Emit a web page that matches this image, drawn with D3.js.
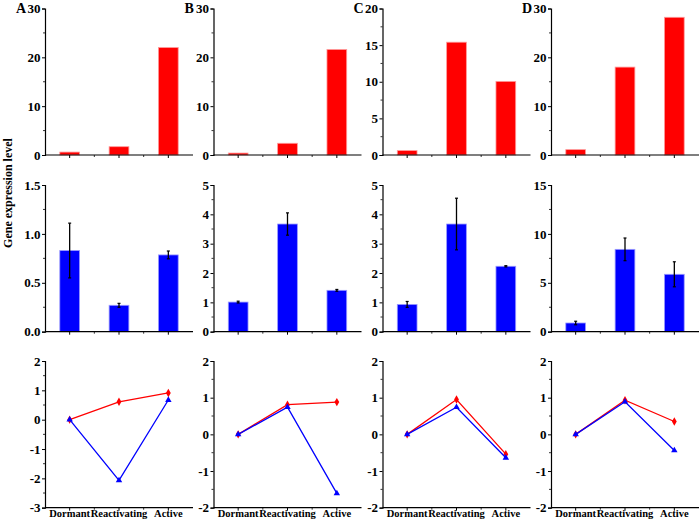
<!DOCTYPE html>
<html>
<head>
<meta charset="utf-8">
<script src="https://cdn.jsdelivr.net/npm/d3@7"></script>
<style>
  html, body { margin: 0; padding: 0; background: #fff; }
  svg text { font-family: "Liberation Serif", "Times New Roman", serif !important; font-weight: bold !important; }
</style>
</head>
<body>
<svg id="chart" width="700" height="521"></svg>
<script>
const categories = ["Dormant", "Reactivating", "Active"];
const panelLabels = ["A", "B", "C", "D"];

const topValues = [
  [0.6, 1.7, 22.0],
  [0.4, 2.4, 21.6],
  [0.6, 15.4, 10.05],
  [1.1, 18.0, 28.2]
];
const topMax = [30, 30, 20, 30];
const topTicks = [[0, 10, 20, 30], [0, 10, 20, 30], [0, 5, 10, 15, 20], [0, 10, 20, 30]];

const midValues = [
  [0.83, 0.27, 0.785],
  [1.01, 3.67, 1.41],
  [0.93, 3.67, 2.23],
  [0.89, 8.42, 5.87]
];
const midErrors = [
  [0.28, 0.02, 0.04],
  [0.03, 0.38, 0.03],
  [0.10, 0.88, 0.02],
  [0.18, 1.16, 1.28]
];
const midMax = [1.5, 5, 5, 15];
const midTicks = [[0, 0.5, 1.0, 1.5], [0, 1, 2, 3, 4, 5], [0, 1, 2, 3, 4, 5], [0, 5, 10, 15]];

const redLine = [
  [0, 0.61, 0.91],
  [0, 0.81, 0.88],
  [0, 0.95, -0.54],
  [0, 0.93, 0.35]
];
const blueLine = [
  [0, -2.07, 0.67],
  [0, 0.74, -1.61],
  [0, 0.74, -0.64],
  [0, 0.89, -0.44]
];
const bottomMin = [-3, -2, -2, -2];
const bottomMax = [2, 2, 2, 2];

const svg = d3.select("#chart");
const FONT = '"Liberation Serif", "Times New Roman", serif';

const panelX = [45, 213.5, 382.5, 551];
const plotW = 148;
const rows = [
  { top: 8.5, bottom: 155 },
  { top: 185, bottom: 331.7 },
  { top: 361, bottom: 507.7 }
];

const hyphen = f => d => f(d).replace("\u2212", "-");

function drawYAxis(g, y, ticks, fmt, x0) {
  const ax = d3.axisLeft(y).tickValues(ticks).tickSize(3).tickPadding(1.5).tickFormat(hyphen(fmt));
  const ga = g.append("g").attr("transform", `translate(${x0},0)`).call(ax)
    .attr("font-family", FONT).attr("font-weight", "bold").attr("font-size", 13);
  ga.select(".domain").attr("stroke", "#000").attr("stroke-width", 1.2);
  ga.selectAll(".tick line").attr("stroke", "#000").attr("stroke-width", 1);
  ga.selectAll(".tick text").attr("font-size", 13).attr("fill", "#000");
  const minor = [];
  for (let i = 0; i < ticks.length - 1; i++) minor.push((ticks[i] + ticks[i + 1]) / 2);
  g.selectAll(null).data(minor).enter().append("line")
    .attr("x1", x0 - 2).attr("x2", x0)
    .attr("y1", d => y(d)).attr("y2", d => y(d))
    .attr("stroke", "#000").attr("stroke-width", 0.8);
}

function drawXAxis(g, x, yPos, withLabels) {
  const ax = d3.axisBottom(x).tickSize(3).tickPadding(-1);
  if (!withLabels) ax.tickFormat("");
  const ga = g.append("g").attr("transform", `translate(0,${yPos})`).call(ax)
    .attr("font-family", FONT).attr("font-weight", "bold").attr("font-size", 10.5);
  ga.select(".domain").attr("stroke", "#000").attr("stroke-width", 1.2)
    .attr("d", `M${x.range()[0]},0H${x.range()[1]}`);
  ga.selectAll(".tick line").attr("stroke", "#000");
  ga.selectAll(".tick text").attr("font-size", 10.5).attr("fill", "#000");
  const bounds = [1, 2].map(k => x.range()[0] + k * x.step());
  g.selectAll(null).data(bounds).enter().append("line")
    .attr("x1", d => d).attr("x2", d => d)
    .attr("y1", yPos).attr("y2", yPos + 2)
    .attr("stroke", "#000").attr("stroke-width", 0.8);
}

panelLabels.forEach((lab, p) => {
  const x0 = panelX[p];
  const g = svg.append("g");
  const x = d3.scaleBand().domain(categories).range([x0, x0 + plotW])
    .paddingInner(0.6).paddingOuter(0.3);
  const ctr = d => x(d) + x.bandwidth() / 2;

  g.append("text").attr("x", x0 - 29).attr("y", 13).attr("font-size", 14)
    .attr("font-family", FONT).attr("font-weight", "bold")
    .attr("fill", "#000").text(lab);

  // top row: red bars
  const yT = d3.scaleLinear().domain([0, topMax[p]]).range([rows[0].bottom, rows[0].top]);
  g.selectAll(null).data(categories).enter().append("rect")
    .attr("x", d => x(d)).attr("width", x.bandwidth())
    .attr("y", (d, i) => yT(topValues[p][i]))
    .attr("height", (d, i) => yT(0) - yT(topValues[p][i]))
    .attr("fill", "#ff0000").attr("stroke", "#ff9a9a").attr("stroke-width", 0.8);
  drawYAxis(g, yT, topTicks[p], d3.format("d"), x0);
  drawXAxis(g, x, rows[0].bottom, false);

  // middle row: blue bars + error bars
  const yM = d3.scaleLinear().domain([0, midMax[p]]).range([rows[1].bottom, rows[1].top]);
  g.selectAll(null).data(categories).enter().append("rect")
    .attr("x", d => x(d)).attr("width", x.bandwidth())
    .attr("y", (d, i) => yM(midValues[p][i]))
    .attr("height", (d, i) => yM(0) - yM(midValues[p][i]))
    .attr("fill", "#0000ff").attr("stroke", "#9a9aff").attr("stroke-width", 0.8);
  categories.forEach((c, i) => {
    const v = midValues[p][i], e = midErrors[p][i];
    const cx = ctr(c);
    g.append("line").attr("x1", cx).attr("x2", cx)
      .attr("y1", yM(v + e)).attr("y2", yM(v - e))
      .attr("stroke", "#000").attr("stroke-width", 1.3);
    [v + e, v - e].forEach(t => {
      g.append("line").attr("x1", cx - 1.5).attr("x2", cx + 1.5)
        .attr("y1", yM(t)).attr("y2", yM(t))
        .attr("stroke", "#000").attr("stroke-width", 1.2);
    });
  });
  const midFmt = p === 0 ? d3.format(".1f") : d3.format("d");
  drawYAxis(g, yM, midTicks[p], midFmt, x0);
  drawXAxis(g, x, rows[1].bottom, false);

  // bottom row: lines
  const yB = d3.scaleLinear().domain([bottomMin[p], bottomMax[p]]).range([rows[2].bottom, rows[2].top]);
  const bTicks = d3.range(bottomMin[p], bottomMax[p] + 1);
  drawYAxis(g, yB, bTicks, d3.format("d"), x0);
  drawXAxis(g, x, rows[2].bottom, true);

  const line = d3.line().x((d, i) => ctr(categories[i])).y(d => yB(d));
  g.append("path").datum(redLine[p]).attr("d", line)
    .attr("fill", "none").attr("stroke", "#ff0000").attr("stroke-width", 1.3);
  g.selectAll(null).data(redLine[p]).enter().append("path")
    .attr("d", d3.symbol().type(d3.symbolDiamond).size(20))
    .attr("transform", (d, i) => `translate(${ctr(categories[i])},${yB(d)})`)
    .attr("fill", "#ff0000");
  g.append("path").datum(blueLine[p]).attr("d", line)
    .attr("fill", "none").attr("stroke", "#0000ff").attr("stroke-width", 1.3);
  g.selectAll(null).data(blueLine[p]).enter().append("path")
    .attr("d", d3.symbol().type(d3.symbolTriangle).size(18))
    .attr("transform", (d, i) => `translate(${ctr(categories[i])},${yB(d)})`)
    .attr("fill", "#0000ff");
});

svg.append("text")
  .attr("transform", "translate(12,193) rotate(-90)")
  .attr("text-anchor", "middle")
  .attr("font-family", FONT).attr("font-weight", "bold")
  .attr("font-size", 12).attr("fill", "#000")
  .text("Gene expression level");
</script>
</body>
</html>
